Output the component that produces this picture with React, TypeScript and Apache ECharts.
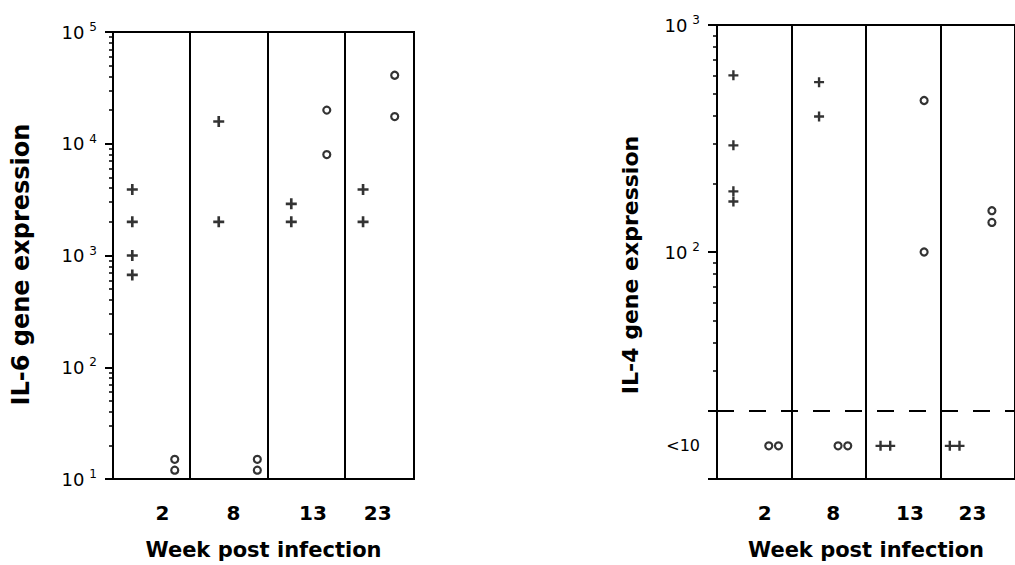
import React, { useEffect, useRef } from 'react';
import * as echarts from 'echarts';

// Week categories and where their labels sit along each panel strip
const weeks = ['2', '8', '13', '23'];
const weekLabelPos = [0.64, 1.56, 2.59, 3.43];

// IL-6 gene expression (left chart): "+" group and "o" group, per week
const il6Plus: number[][] = [[3900, 2000, 1000, 670], [15800, 2000], [2900, 2000], [3900, 2000]];
const il6Circle: number[][] = [[15, 12], [15, 12], [20000, 8000], [41000, 17500]];
// sub-column offset of each group inside its week strip
const il6PlusX = [0.25, 0.37, 0.31, 0.24];
const il6CircleX = [0.8, 0.87, 0.77, 0.65];

// IL-4 gene expression (right chart); null = below detection (<10)
const il4Plus: (number | null)[][] = [[600, 295, 185, 167], [560, 395], [null, null], [null, null]];
const il4Circle: (number | null)[][] = [[null, null], [null, null], [465, 100], [152, 135]];
const il4PlusX = [0.22, 0.37, 0.26, 0.19];
const il4CircleX = [0.76, 0.69, 0.78, 0.69];
const il4Threshold = 20;
const il4BelowLevel = 14;
const belowSpread = 0.065;

const FONT = 'DejaVu Sans';
const PLUS = 'path://M3.8,0H6.2V3.8H10V6.2H6.2V10H3.8V6.2H0V3.8H3.8Z';

function buildPoints(values: (number | null)[][], xs: number[]) {
  const out: number[][] = [];
  values.forEach((group, i) => {
    const nb = group.filter((v) => v === null).length;
    let k = 0;
    group.forEach((v) => {
      if (v === null) {
        const off = (k - (nb - 1) / 2) * 2 * belowSpread;
        k++;
        out.push([i + xs[i] + off, il4BelowLevel]);
      } else {
        out.push([i + xs[i], v]);
      }
    });
  });
  return out;
}

function minorTicks(decades: number[], from: number) {
  const out: number[] = [];
  decades.forEach((d, idx) => {
    for (let k = idx === 0 ? from : 2; k <= 9; k++) out.push(d * k);
  });
  return out;
}

const powLabel = (v: number) => {
  const e = Math.round(Math.log10(v));
  return `{n|10}{s|${e}}`;
};

const powRich = {
  n: { fontSize: 18, fontFamily: FONT, color: '#000', padding: [0, 5, 0, 0] },
  s: { fontSize: 12, fontFamily: FONT, color: '#000', padding: [0, 0, 10, 0] },
};

const weekFormatter = (v: number) => {
  const i = weekLabelPos.findIndex((p) => Math.abs(p - v) < 1e-6);
  return i >= 0 ? weeks[i] : '';
};

const black = { color: '#000', width: 2 };

function xAxisFor(gridIndex: number, max: number) {
  return {
    gridIndex,
    type: 'value',
    min: 0,
    max,
    interval: 1,
    axisLine: { show: true, lineStyle: black },
    axisTick: { show: false },
    splitLine: { show: true, lineStyle: black },
    axisLabel: {
      customValues: weekLabelPos,
      formatter: weekFormatter,
      margin: 24,
      fontSize: 20,
      fontWeight: 'bold',
      fontFamily: FONT,
      color: '#000',
    },
    name: 'Week post infection',
    nameLocation: 'middle',
    nameGap: 60,
    nameTextStyle: { fontSize: 21, fontWeight: 'bold', fontFamily: FONT, color: '#000' },
  };
}

const minorAxisBase = {
  type: 'log',
  logBase: 10,
  position: 'left',
  axisLine: { show: false },
  axisLabel: { show: false },
  splitLine: { show: false },
};

export default function App() {
  const ref = useRef<HTMLDivElement>(null);

  useEffect(() => {
    if (!ref.current) return;
    const chart = echarts.init(ref.current, undefined, { renderer: 'svg' });

    const option = {
      animation: false,
      backgroundColor: '#fff',
      textStyle: { fontFamily: FONT, color: '#000' },
      grid: [
        { left: 113, top: 32, width: 301, height: 448, show: true, borderColor: '#000', borderWidth: 2 },
        { left: 717, top: 25, width: 312, height: 458, show: true, borderColor: '#000', borderWidth: 2 },
      ],
      xAxis: [xAxisFor(0, 3.9), xAxisFor(1, 4)],
      yAxis: [
        {
          gridIndex: 0,
          type: 'log',
          logBase: 10,
          position: 'left',
          min: 10,
          max: 100000,
          axisLine: { show: true, lineStyle: black },
          axisTick: { show: true, length: 8, lineStyle: black },
          splitLine: { show: false },
          axisLabel: { margin: 16, formatter: powLabel, rich: powRich },
          name: 'IL-6 gene expression',
          nameLocation: 'middle',
          nameRotate: 90,
          nameGap: 80,
          nameTextStyle: {
            fontSize: 24,
            fontWeight: 'bold',
            fontFamily: FONT,
            color: '#000',
            padding: [0, 18, 0, 0],
          },
        },
        {
          ...minorAxisBase,
          gridIndex: 0,
          min: 10,
          max: 100000,
          axisTick: {
            show: true,
            length: 4,
            customValues: minorTicks([10, 100, 1000, 10000], 2),
            lineStyle: { color: '#000', width: 1.5 },
          },
        },
        {
          gridIndex: 1,
          type: 'log',
          logBase: 10,
          position: 'left',
          min: 10,
          max: 1000,
          axisLine: { show: true, lineStyle: black },
          axisTick: { show: true, length: 9, customValues: [10, il4Threshold, 100, 1000], lineStyle: black },
          splitLine: { show: false },
          axisLabel: {
            margin: 17,
            customValues: [il4BelowLevel, 100, 1000],
            formatter: (v: number) => (v < il4Threshold ? '{l|<10}' : powLabel(v)),
            rich: { ...powRich, l: { fontSize: 16, fontFamily: FONT, color: '#000' } },
          },
          name: 'IL-4 gene expression',
          nameLocation: 'middle',
          nameRotate: 90,
          nameGap: 76,
          nameTextStyle: {
            fontSize: 22,
            fontWeight: 'bold',
            fontFamily: FONT,
            color: '#000',
            padding: [0, 26, 0, 0],
          },
        },
        {
          ...minorAxisBase,
          gridIndex: 1,
          min: 10,
          max: 1000,
          axisTick: {
            show: true,
            length: 4,
            customValues: minorTicks([10, 100], 3),
            lineStyle: { color: '#000', width: 1.5 },
          },
        },
      ],
      series: [
        {
          type: 'scatter',
          xAxisIndex: 0,
          yAxisIndex: 0,
          symbol: PLUS,
          symbolSize: 11,
          itemStyle: { color: '#000' },
          data: buildPoints(il6Plus, il6PlusX),
        },
        {
          type: 'scatter',
          xAxisIndex: 0,
          yAxisIndex: 0,
          symbol: 'circle',
          symbolSize: 7,
          itemStyle: { color: '#fff', borderColor: '#000', borderWidth: 2.2 },
          data: buildPoints(il6Circle, il6CircleX),
        },
        {
          type: 'scatter',
          xAxisIndex: 1,
          yAxisIndex: 2,
          symbol: PLUS,
          symbolSize: 10,
          itemStyle: { color: '#000' },
          data: buildPoints(il4Plus, il4PlusX),
          markLine: {
            silent: true,
            symbol: 'none',
            label: { show: false },
            lineStyle: { color: '#000', width: 2, type: [17, 15] },
            data: [{ yAxis: il4Threshold }],
          },
        },
        {
          type: 'scatter',
          xAxisIndex: 1,
          yAxisIndex: 2,
          symbol: 'circle',
          symbolSize: 7,
          itemStyle: { color: '#fff', borderColor: '#000', borderWidth: 2.2 },
          data: buildPoints(il4Circle, il4CircleX),
        },
      ],
    };

    chart.setOption(option as any);
    return () => chart.dispose();
  }, []);

  return (
    <div
      ref={ref}
      style={{ position: 'fixed', left: 0, top: 0, width: 1015, height: 565, background: '#fff' }}
    />
  );
}
